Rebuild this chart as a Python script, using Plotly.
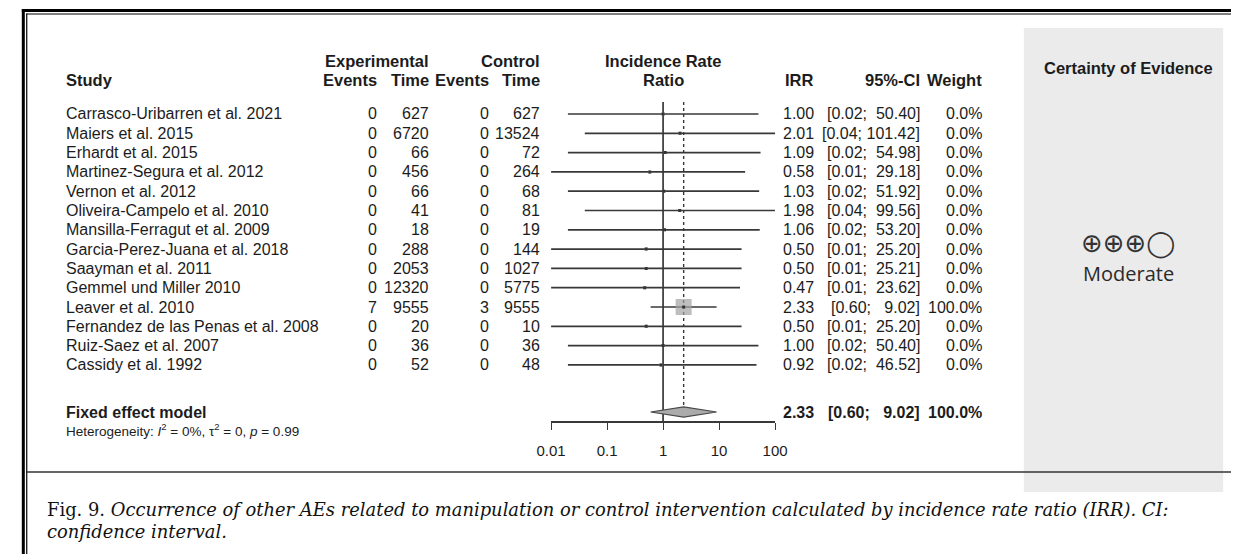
import plotly.graph_objects as go

# ---- study data -----------------------------------------------------------
studies = [
    "Carrasco-Uribarren et al. 2021", "Maiers et al. 2015", "Erhardt et al. 2015",
    "Martinez-Segura et al. 2012", "Vernon et al. 2012", "Oliveira-Campelo et al. 2010",
    "Mansilla-Ferragut et al. 2009", "Garcia-Perez-Juana et al. 2018", "Saayman et al. 2011",
    "Gemmel und Miller 2010", "Leaver et al. 2010", "Fernandez de las Penas et al. 2008",
    "Ruiz-Saez et al. 2007", "Cassidy et al. 1992",
]
exp_events = [0, 0, 0, 0, 0, 0, 0, 0, 0, 0, 7, 0, 0, 0]
exp_time = [627, 6720, 66, 456, 66, 41, 18, 288, 2053, 12320, 9555, 20, 36, 52]
ctrl_events = [0, 0, 0, 0, 0, 0, 0, 0, 0, 0, 3, 0, 0, 0]
ctrl_time = [627, 13524, 72, 264, 68, 81, 19, 144, 1027, 5775, 9555, 10, 36, 48]
irr = [1.00, 2.01, 1.09, 0.58, 1.03, 1.98, 1.06, 0.50, 0.50, 0.47, 2.33, 0.50, 1.00, 0.92]
ci_low = [0.02, 0.04, 0.02, 0.01, 0.02, 0.04, 0.02, 0.01, 0.01, 0.01, 0.60, 0.01, 0.02, 0.02]
ci_high = [50.40, 101.42, 54.98, 29.18, 51.92, 99.56, 53.20, 25.20, 25.21, 23.62, 9.02, 25.20, 50.40, 46.52]
weight = [0.0, 0.0, 0.0, 0.0, 0.0, 0.0, 0.0, 0.0, 0.0, 0.0, 100.0, 0.0, 0.0, 0.0]

pooled_irr = 2.33
pooled_low = 0.60
pooled_high = 9.02
pooled_weight = 100.0

tick_values = [0.01, 0.1, 1, 10, 100]
tick_labels = ["0.01", "0.1", "1", "10", "100"]

# ---- page geometry (pixels) -------------------------------------------------
W, H = 1244, 554
ROW0, ROWH = 114.0, 19.3          # first study row centre and row pitch
AXIS_PX = 421.0                   # x-axis line position
FOREST_L, FOREST_R = 548.4, 777.6  # pixel span of 0.01 .. 100


def px_x(p):
    return p / W


def px_y(p):
    return 1 - p / H


def row_of(p):
    return (p - ROW0) / ROWH


r_axis = row_of(AXIS_PX)
r_top = -1.0
r_pooled = row_of(412.0)

SANS = "Liberation Sans, Arial, sans-serif"
INK = "#1c1c1c"
LINE = "#383838"
FS = 16
FSB = 16.5

fig = go.Figure()

rows = list(range(len(studies)))

# confidence-interval whiskers
cx, cy = [], []
for r, lo, hi in zip(rows, ci_low, ci_high):
    cx += [lo, hi, None]
    cy += [r, r, None]
fig.add_trace(go.Scatter(x=cx, y=cy, mode="lines", line=dict(color=LINE, width=1.7),
                         hoverinfo="skip", showlegend=False))

# reference line at IRR = 1
fig.add_trace(go.Scatter(x=[1, 1], y=[row_of(102), r_axis], mode="lines",
                         line=dict(color=LINE, width=1.7), hoverinfo="skip", showlegend=False))
# pooled estimate line
dh = 0.27
fig.add_trace(go.Scatter(x=[pooled_irr, pooled_irr], y=[row_of(102), r_pooled - dh], mode="lines",
                         line=dict(color=LINE, width=1.4, dash="3px,3px"),
                         hoverinfo="skip", showlegend=False))

# study squares (area scaled by weight)
sizes = [max(3.0, 16.0 * (w / 100.0) ** 0.5) for w in weight]
fig.add_trace(go.Scatter(x=irr, y=rows, mode="markers",
                         marker=dict(symbol="square", size=sizes, color="#a3a3a3",
                                     line=dict(color="#a3a3a3", width=0)),
                         hoverinfo="skip", showlegend=False))
fig.add_trace(go.Scatter(x=irr, y=rows, mode="markers",
                         marker=dict(symbol="square", size=3, color="#333333"),
                         hoverinfo="skip", showlegend=False))

# pooled diamond
fig.add_trace(go.Scatter(x=[pooled_low, pooled_irr, pooled_high, pooled_irr, pooled_low],
                         y=[r_pooled, r_pooled - dh, r_pooled, r_pooled + dh, r_pooled],
                         mode="lines", fill="toself", fillcolor="#ababab",
                         line=dict(color="#4a4a4a", width=1.2),
                         hoverinfo="skip", showlegend=False))

fig.update_xaxes(type="log", range=[-2, 2], domain=[px_x(FOREST_L), px_x(FOREST_R)],
                 showgrid=False, zeroline=False, showline=True, linecolor=LINE, linewidth=1.5,
                 ticks="outside", ticklen=7, tickwidth=1.4, tickcolor=LINE,
                 tickvals=tick_values, ticktext=tick_labels, ticklabelstandoff=8,
                 tickfont=dict(family=SANS, size=15, color=INK))
fig.update_yaxes(range=[r_axis, r_top], domain=[px_y(AXIS_PX), px_y(ROW0 + r_top * ROWH)],
                 visible=False, showgrid=False, zeroline=False)

ann = []


def txt(x, y, s, anchor="left", yref="y", size=FS, bold=False, **kw):
    if bold:
        s = f"<b>{s}</b>"
    ann.append(dict(x=px_x(x), xref="paper", y=y if yref == "y" else px_y(y), yref=yref,
                    text=s, showarrow=False, xanchor=anchor, yanchor="middle",
                    font=dict(family=kw.get("family", SANS), size=size,
                              color=kw.get("color", INK))))


NB = "\u00a0"


def ci_text(lo, hi):
    return f"[{lo:.2f};{NB}{hi:>6.2f}]".replace(" ", NB)


# column headers
txt(50, 80, "Study", yref="paper", size=FSB, bold=True)
txt(426, 61, "Experimental", "right", yref="paper", size=FSB, bold=True)
txt(372, 80, "Events", "right", yref="paper", size=FSB, bold=True)
txt(426, 80, "Time", "right", yref="paper", size=FSB, bold=True)
txt(539, 61, "Control", "right", yref="paper", size=FSB, bold=True)
txt(487, 80, "Events", "right", yref="paper", size=FSB, bold=True)
txt(539, 80, "Time", "right", yref="paper", size=FSB, bold=True)
txt(663, 61, "Incidence Rate", "center", yref="paper", size=FSB, bold=True)
txt(663, 80, "Ratio", "center", yref="paper", size=FSB, bold=True)
txt(819, 80, "IRR", "right", yref="paper", size=FSB, bold=True)
txt(928, 80, "95%-CI", "right", yref="paper", size=FSB, bold=True)
txt(991, 80, "Weight", "right", yref="paper", size=FSB, bold=True)

# study rows
for r in rows:
    txt(50, r, studies[r])
    txt(372, r, str(exp_events[r]), "right")
    txt(426, r, str(exp_time[r]), "right")
    txt(487, r, str(ctrl_events[r]), "right")
    txt(539, r, str(ctrl_time[r]), "right")
    txt(819, r, f"{irr[r]:.2f}", "right")
    txt(928, r, ci_text(ci_low[r], ci_high[r]), "right")
    txt(991, r, f"{weight[r]:.1f}%", "right")

# pooled row
txt(50, r_pooled, "Fixed effect model", bold=True)
txt(819, r_pooled, f"{pooled_irr:.2f}", "right", bold=True)
txt(928, r_pooled, ci_text(pooled_low, pooled_high), "right", bold=True)
txt(991, r_pooled, f"{pooled_weight:.1f}%", "right", bold=True)
txt(50, 430, "Heterogeneity: <i>I</i><sup>2</sup> = 0%, τ<sup>2</sup> = 0, <i>p</i> = 0.99",
    yref="paper", size=13.5)

# certainty-of-evidence panel
txt(1139, 68, "Certainty of Evidence", "center", yref="paper", size=FSB, bold=True)
txt(1139, 243, "⊕⊕⊕◯", "center", yref="paper", size=26, family="DejaVu Sans", color="#333333")
txt(1139, 274, "Moderate", "center", yref="paper", size=20, family="Open Sans, Noto Sans, sans-serif",
    color="#2a2a2a")

# figure caption
SERIF = "DejaVu Serif, Liberation Serif, serif"
txt(31, 509, "Fig. 9. <i>Occurrence of other AEs related to manipulation or control intervention "
    "calculated by incidence rate ratio (IRR). CI:</i>", yref="paper", size=17.9, family=SERIF,
    color="#111111")
txt(31, 531, "<i>confidence interval.</i>", yref="paper", size=17.9, family=SERIF, color="#111111")

shapes = [
    # grey side panel
    dict(type="rect", xref="paper", yref="paper", x0=px_x(1032), x1=px_x(1236),
         y0=px_y(492), y1=px_y(28), fillcolor="#ebebeb", line=dict(width=0), layer="below"),
    # double frame: thick outer, thin inner
    dict(type="line", xref="paper", yref="paper", x0=px_x(7), x1=1, y0=px_y(10.5), y1=px_y(10.5),
         line=dict(color="#000000", width=3)),
    dict(type="line", xref="paper", yref="paper", x0=px_x(11.5), x1=1, y0=px_y(14), y1=px_y(14),
         line=dict(color="#000000", width=1.2)),
    dict(type="line", xref="paper", yref="paper", x0=px_x(8.5), x1=px_x(8.5), y0=0, y1=px_y(9),
         line=dict(color="#000000", width=3)),
    dict(type="line", xref="paper", yref="paper", x0=px_x(12), x1=px_x(12), y0=0, y1=px_y(13.4),
         line=dict(color="#000000", width=1.2)),
    # rule between figure and caption
    dict(type="line", xref="paper", yref="paper", x0=px_x(12), x1=1, y0=px_y(472), y1=px_y(472),
         line=dict(color="#333333", width=1.5)),
]

fig.update_layout(width=W, height=H, margin=dict(l=0, r=0, t=0, b=0),
                  paper_bgcolor="white", plot_bgcolor="rgba(0,0,0,0)",
                  annotations=ann, shapes=shapes, showlegend=False)

fig.write_html("out.html")
